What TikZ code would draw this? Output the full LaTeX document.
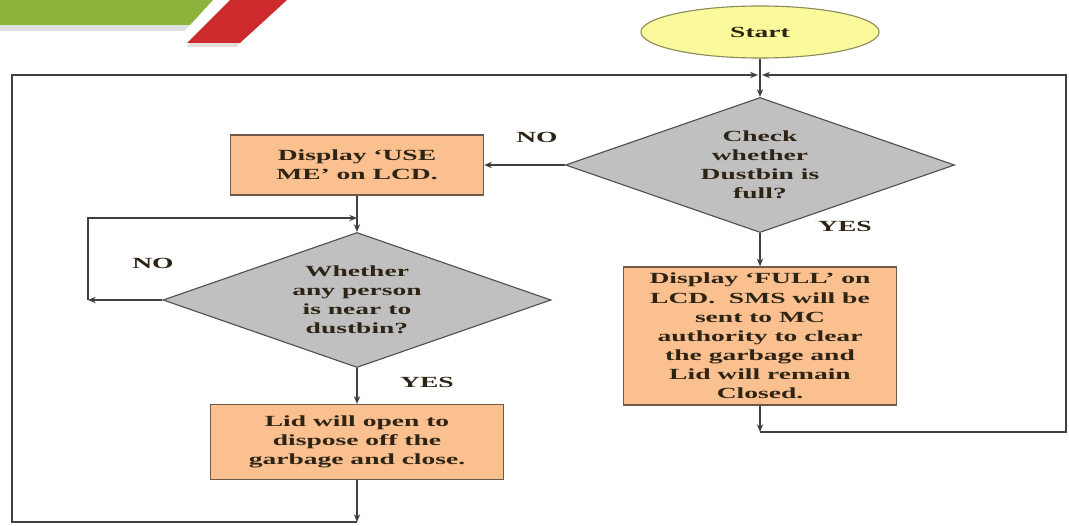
\documentclass[tikz,border=0pt]{standalone}
\usepackage{fontspec}
\setmainfont{Liberation Serif}[FakeStretch=1.78]
\usetikzlibrary{shapes.geometric,arrows.meta}
\definecolor{boxfill}{HTML}{FAC08F}
\definecolor{boxline}{HTML}{6E5A48}
\definecolor{askfill}{HTML}{C0C0C0}
\definecolor{askline}{HTML}{505050}
\definecolor{startfill}{HTML}{FAFA9C}
\definecolor{startline}{HTML}{8C8C5A}
\definecolor{flowline}{HTML}{404040}
\definecolor{banner}{HTML}{8CB43C}
\definecolor{slash}{HTML}{CC2A2C}
\definecolor{inktext}{HTML}{2E2416}
\begin{document}
\begin{tikzpicture}[x=0.025cm,y=-0.025cm,font=\fontsize{11}{13.6}\selectfont\bfseries,
  >={Stealth[length=5.5pt,width=4.5pt]},
  proc/.style={draw=boxline,line width=0.9pt,fill=boxfill,shape=rectangle,align=center,inner sep=1pt,text=inktext},
  decide/.style={draw=askline,line width=0.8pt,fill=askfill,shape=diamond,aspect=2.88,align=center,inner sep=0pt,text=inktext},
  lbl/.style={text=inktext},
  flow/.style={draw=flowline,line width=0.9pt}]
\useasboundingbox (0,0) rectangle (1069,525);
% banner at top left
\fill[black!12] (0,25) -- (190,25) -- (184,31) -- (0,31) -- cycle;
\fill[banner] (0,0) -- (213,0) -- (190,25) -- (0,25) -- cycle;
\fill[black!12] (190,43) -- (240,43) -- (236,47) -- (186,47) -- cycle;
\fill[slash] (230,0) -- (287,0) -- (240,43) -- (187,43) -- cycle;
% blocks
\path (760,32) node(start) [draw=startline,line width=0.8pt,fill=startfill,shape=ellipse,minimum width=5.95cm,minimum height=1.3cm,text=inktext] {Start};
\path (760,165) node(d_0) [decide,minimum width=9.725cm,minimum height=3.375cm] {Check\\whether\\Dustbin is\\full?};
\path (357,165) node(b_0) [proc,minimum width=6.325cm,minimum height=1.5cm] {Display `USE\\ME' on LCD.};
\path (760,336) node(b_1) [proc,minimum width=6.825cm,minimum height=3.45cm] {Display `FULL' on\\LCD.\ \ SMS will be\\sent to MC\\authority to clear\\the garbage and\\Lid will remain\\Closed.};
\path (357,300) node(d_1) [decide,minimum width=9.7cm,minimum height=3.375cm] {Whether\\any person\\is near to\\dustbin?};
\path (357,442) node(b_2) [proc,minimum width=7.325cm,minimum height=1.875cm] {Lid will open to\\dispose off the\\garbage and close.};
% labels
\path (537,137) node(no_0) [lbl] {NO};
\path (845,226) node(yes_0) [lbl] {YES};
\path (153,263) node(no_1) [lbl] {NO};
\path (427,382) node(yes_1) [lbl] {YES};
% bends
\coordinate (c_l) at (760,75);
\coordinate (c_r) at (760,75);
\coordinate (l_0) at (88,300);
\coordinate (l_1) at (88,218);
\coordinate (l_2) at (357,218);
\coordinate (l_3) at (357,522);
\coordinate (l_4) at (12,522);
\coordinate (l_5) at (12,75);
\coordinate (r_0) at (760,432);
\coordinate (r_1) at (1066,432);
\coordinate (r_2) at (1066,75);
% connectors
\draw[flow,->] (start) -- (d_0);
\draw[flow,->] (d_0.west) -- (b_0.east);
\draw[flow,->] (d_0) -- (b_1);
\draw[flow,->] (b_0) -- (d_1);
\draw[flow,->] (d_1) -- (b_2);
\draw[flow,->] (d_1.west) -- (l_0);
\draw[flow,->] (l_0) -- (l_1) -- (l_2);
\draw[flow,->] (b_2) -- (l_3);
\draw[flow,->,shorten >=1.5pt] (l_3) -- (l_4) -- (l_5) -- (c_l);
\draw[flow,->] (b_1) -- (r_0);
\draw[flow,->,shorten >=1.5pt] (r_0) -- (r_1) -- (r_2) -- (c_r);
\end{tikzpicture}
\end{document}
